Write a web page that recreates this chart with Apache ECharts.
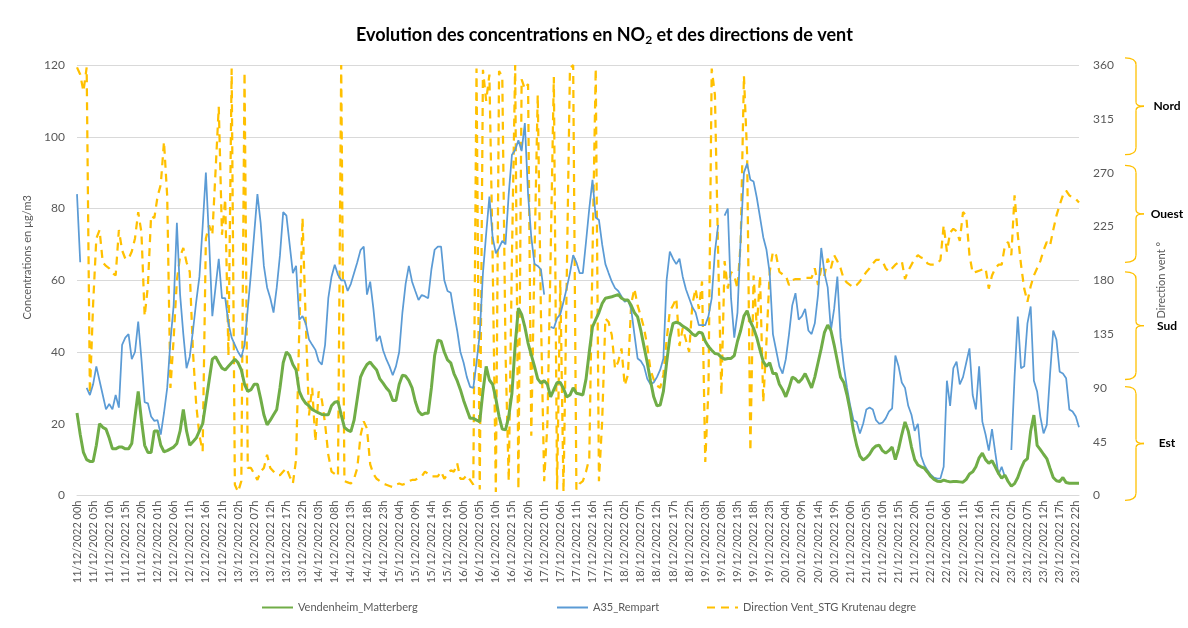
<!DOCTYPE html>
<html lang="fr">
<head>
<meta charset="UTF-8">
<title>Evolution NO2 et directions de vent</title>
<script src="https://cdn.jsdelivr.net/npm/echarts@6/dist/echarts.min.js"></script>
<style>
  html, body { margin: 0; padding: 0; background: #fff; }
  #chart { width: 1188px; height: 628px; }
</style>
</head>
<body>
<div id="chart"></div>
<script>
// categories : une par heure, du 11/12/2022 00h au 23/12/2022 23h
var days = ['11', '12', '13', '14', '15', '16', '17', '18', '19', '20', '21', '22', '23'];
var hours = [];
for (var h = 0; h < 24; h++) hours.push((h < 10 ? '0' : '') + h);
var categories = [];
days.forEach(function (d) {
    hours.forEach(function (hh) { categories.push(d + '/12/2022 ' + hh + 'h'); });
});

// NO2 Vendenheim (µg/m3), une ligne par jour
var vendenheim = [
    23, 17, 12, 10, 9.5, 9.5, 14, 20, 19, 18.5, 16, 13, 13, 13.5, 13.5, 13, 13, 14.5, 22, 29, 21, 14, 12, 12,
    18, 18, 14, 12.2, 12.5, 13, 13.5, 14.5, 18, 24, 18, 14, 15, 16, 18, 20, 26, 32, 38, 38.7, 37, 35.5, 35, 36,
    37, 38, 37, 35, 31, 29, 29.5, 31, 31, 27, 22.5, 19.7, 21, 22.5, 24, 30, 37, 40, 39, 36.5, 35, 29, 27, 25.7,
    25, 24, 23.5, 23, 22.6, 22.5, 22.5, 25, 26, 26.2, 22.5, 19, 18.2, 17.8, 21, 27, 33, 35, 36.5, 37.2, 36, 35, 32.5, 31.3,
    30, 29, 26.5, 26.5, 31, 33.5, 33.3, 32, 30, 26.2, 23.5, 22.5, 22.9, 22.9, 30, 39, 43.3, 43, 40, 37.8, 37, 34, 32, 29.5,
    26.5, 24, 21.5, 21.5, 21, 20.6, 29, 36, 32.2, 31, 27, 22, 18.5, 18.3, 22, 28.5, 42, 52.2, 50.5, 47, 42.5, 39.2, 36, 32.5,
    31.3, 32, 31, 27.5, 29.5, 31.5, 31.5, 29.8, 27.5, 28, 30, 28.5, 28.3, 28, 32.5, 40, 47, 49, 51, 53.5, 55, 55.2, 55.4, 55.7,
    56, 55, 54.5, 54.5, 53, 51, 49.8, 46, 41.5, 37, 32, 27.5, 25, 25.2, 29, 37, 44, 48, 48.3, 48, 47.2, 46.7, 46, 45,
    44.5, 45.5, 45.3, 43, 41.5, 40.5, 39.6, 39.4, 38.5, 38, 38.2, 38.2, 39, 43, 46, 50, 51.5, 48.5, 46.6, 44, 40.5, 37.3, 36, 37,
    34, 34, 31, 29.5, 27.5, 30, 33, 32.5, 31.5, 32.5, 34, 32, 30, 33, 37, 41, 45.5, 47.5, 46, 42, 37.5, 33, 31.5, 28,
    23.5, 18, 14, 11, 9.9, 10.5, 11.5, 13, 13.8, 14, 12.5, 11.8, 12.5, 13.5, 10, 13, 17, 20.5, 18, 13.5, 10, 8.5, 8, 7.6,
    6.5, 5.3, 4.5, 4, 3.9, 4.3, 4, 3.8, 3.9, 3.9, 3.8, 3.7, 4.5, 6, 6.6, 8, 10.5, 11.8, 10, 9, 9.7, 8, 6.2, 4.8,
    5.7, 3.9, 2.6, 3.3, 5, 7.5, 9.5, 10.3, 18, 22.4, 14, 12.8, 11.5, 10.3, 7.6, 5, 4.1, 3.9, 5, 3.6, 3.4, 3.4, 3.4, 3.4
];

// NO2 A35 Rempart (µg/m3), null = donnee manquante
var rempart = [
    84, 65, null, 30, 28, 31, 36, 32, 28, 24, 25.5, 24, 28, 24.5, 42, 44, 45, 38, 40, 48.5, 38, 26, 25.7, 22,
    20.8, 21, 17, 23, 30, 43, 53, 76, 56, 45, 35.5, 38.7, 46, 54, 61, 75, 90, 71, 50, 58, 66, 55, 55, 48,
    44, 42, 40, 38.5, 42, 52, 62, 73, 84, 76, 64, 58, 55, 51, 58, 67, 79, 78, 70, 62, 64, 49, 50, 48,
    43.5, 42, 40.6, 37.5, 36.5, 42, 55, 61, 64.3, 61.5, 60, 60, 57, 59, 62, 65, 68.4, 69.4, 56, 59.6, 52, 43, 44.5, 40.5,
    38, 36, 33.5, 36, 40, 51, 59, 64, 59.6, 57, 54.5, 55.9, 55.5, 55, 63, 68.5, 69.4, 69.4, 60, 57, 56.5, 51, 46, 40,
    37, 33, 30.3, 30, 37, 45, 62, 73, 83.3, 72, 67.5, 69, 71, 70, 84, 95, 96.3, 99, 96, 103.8, 84, 72, 64.5, 64,
    63, 56, null, 47, 46.6, 49.4, 50.5, 54, 57.8, 62, 67, 65, 62, 62, 70.8, 80, 88, 77.5, 76.8, 70, 64.5, 62, 59.6, 57.8,
    57, 55.5, 54, 54.5, 52, 45, 38.2, 37.5, 36, 32.5, 31, 31.5, 33, 35, 38.2, 60, 68, 66, 64.5, 66, 61, 57.5, 55, 52.5,
    51, 47.5, 47.5, 47.5, 50, 55, 68, 75.4, null, 78, 80, 55, 44, 51, 72, 90, 92.5, 88, 87.5, 83, 77.5, 72, 68.5, 62,
    45, 40.5, 36, 34, 38, 45, 53, 56.4, 49, 50, 52, 46, 45, 48, 56, 69, 62, 58, 46, 52, 61, 44, 36, 30,
    25, 21, 20.5, 17.3, 20, 24, 24.5, 24, 21, 20, 20.3, 21.5, 23.4, 24.3, 39, 36, 31.5, 30, 25, 22.5, 18, 20, 11, 8.5,
    7, 5.8, 5, 4.7, 4.8, 8, 32, 25, 35.5, 37.3, 31, 33, 37, 41, 28, 24, 36, 20.6, 17, 12.5, 18.5, 12, 5.8, 8,
    5.2, null, 12.7, 33, 49.9, 35.5, 36, 48, 52.7, 32, 29, 22, 17.3, 19.7, 33.6, 46, 43.4, 34.5, 34, 32.7, 24, 23.4, 22, 19
];

// direction du vent a Krutenau (degres)
var direction = [
    358, 352, 338, 358, 85, 160, 215, 222, 195, 192, 190, 186, 184, 222, 205, 198, 198, 204, 215, 237, 220, 150, 175, 234,
    232, 250, 260, 296, 250, 90, 131, 180, 200, 207, 195, 187, 120, 76, 50, 37, 215, 226, 218, 271, 325, 218, 248, 117,
    357, 9, 3, 12, 354, 23, 23, 18, 13, 20, 23, 34, 23, 20, 17, 17, 20, 23, 16, 10, 30, 140, 232, 145,
    67, 90, 45, 87, 80, 60, 34, 20, 18, 16, 360, 12, 11, 10, 14, 23, 50, 62, 56, 26, 18, 14, 12, 10,
    9, 8, 7, 9, 10, 9, 10, 12, 13, 13, 15, 16, 20, 18, 16, 16, 16, 20, 14, 18, 21, 20, 27, 14,
    14, 17, 13, 9, 357, 5, 356, 330, 352, 200, 3, 355, 350, 120, 12, 200, 360, 5, 348, 340, 344, 50, 200, 335,
    150, 12, 60, 200, 350, 5, 180, 3, 180, 357, 360, 5, 10, 12, 20, 31, 200, 357, 12, 62, 148, 145, 134, 106,
    112, 123, 92, 101, 160, 173, 159, 150, 140, 125, 105, 97, 92, 90, 101, 130, 154, 159, 165, 125, 140, 130, 120, 160,
    173, 156, 179, 28, 90, 357, 335, 201, 84, 196, 173, 187, 184, 173, 212, 351, 285, 37, 184, 140, 184, 78, 129, 187,
    204, 201, 187, 185, 184, 176, 180, 181, 181, 181, 182, 182, 182, 190, 176, 190, 184, 198, 190, 201, 196, 190, 181, 178,
    176, 174, 176, 179, 183, 187, 190, 194, 197, 197, 196, 190, 187, 190, 193, 195, 196, 181, 188, 193, 198, 201, 199, 198,
    194, 193, 193, 194, 197, 226, 204, 220, 223, 221, 213, 237, 234, 201, 186, 187, 188, 189, 190, 173, 184, 190, 193, 193,
    209, 212, 201, 251, 218, 193, 173, 162, 175, 184, 190, 196, 205, 212, 209, 222, 234, 243, 251, 255, 251, 249, 248, 245
];

// secteurs de vent (accolades a droite), en degres
var bandNames = ['Nord', 'Ouest', 'Sud', 'Est'];
var bandTop = [366, 276, 187, 91];
var bandBottom = [285, 195, 97, -4];

var gris = '#595959';
var police = 'Lato, "Liberation Sans", sans-serif';

var chart = echarts.init(document.getElementById('chart'));

// une legende par serie pour garder l'espacement du modele
function legende(nom, gauche) {
    return {
        data: [nom],
        top: 597,
        left: gauche,
        itemWidth: 31,
        itemHeight: 10,
        itemGap: 4,
        itemStyle: { opacity: 0 },
        textStyle: { fontFamily: police, fontSize: 11, color: gris }
    };
}

var option = {
    animation: false,
    backgroundColor: '#fff',
    title: {
        text: 'Evolution des concentrations en NO{sub|2} et des directions de vent',
        left: 351,
        top: 20,
        textStyle: {
            fontFamily: police,
            fontSize: 18,
            fontWeight: 'bold',
            color: '#000',
            rich: {
                sub: { fontFamily: police, fontSize: 12, fontWeight: 'bold', color: '#000', verticalAlign: 'bottom', padding: [9, 0, 0, 0] }
            }
        }
    },
    legend: [
        legende('Vendenheim_Matterberg', 256),
        legende('A35_Rempart', 551),
        legende('Direction Vent_STG Krutenau degre', 701)
    ],
    grid: { left: 77, right: 109, top: 65, bottom: 132.5 },
    xAxis: {
        type: 'category',
        data: categories,
        boundaryGap: false,
        axisLine: { lineStyle: { color: '#D9D9D9' } },
        axisTick: { show: false },
        axisLabel: {
            interval: 4,
            rotate: 90,
            margin: 5,
            fontFamily: police,
            fontSize: 11,
            color: gris
        }
    },
    yAxis: [{
        type: 'value',
        min: 0,
        max: 120,
        interval: 20,
        name: 'Concentrations en µg/m3',
        nameLocation: 'middle',
        nameGap: 44,
        nameTextStyle: { fontFamily: police, fontSize: 11, color: gris, padding: [0, 0, 0, 46] },
        axisLine: { show: false },
        axisTick: { show: false },
        axisLabel: { margin: 12, fontFamily: police, fontSize: 12, color: gris },
        splitLine: { lineStyle: { color: '#D9D9D9' } }
    }, {
        type: 'value',
        min: 0,
        max: 360,
        interval: 45,
        name: 'Direction vent °',
        nameLocation: 'middle',
        nameRotate: 90,
        nameGap: 77,
        nameTextStyle: { fontFamily: police, fontSize: 11, color: gris },
        axisLine: { show: false },
        axisTick: { show: false },
        axisLabel: { margin: 14, fontFamily: police, fontSize: 12, color: gris },
        splitLine: { show: false }
    }],
    series: [{
        name: 'Vendenheim_Matterberg',
        type: 'line',
        data: vendenheim,
        symbol: 'none',
        lineStyle: { color: '#70AD47', width: 3 },
        itemStyle: { color: '#70AD47' },
        z: 3
    }, {
        name: 'A35_Rempart',
        type: 'line',
        data: rempart,
        symbol: 'none',
        connectNulls: false,
        lineStyle: { color: '#5B9BD5', width: 1.75 },
        itemStyle: { color: '#5B9BD5' },
        z: 2
    }, {
        name: 'Direction Vent_STG Krutenau degre',
        type: 'line',
        yAxisIndex: 1,
        data: direction,
        symbol: 'none',
        lineStyle: { color: '#FFC000', width: 2.25, type: [8, 6] },
        itemStyle: { color: '#FFC000' },
        z: 1
    }]
};

chart.setOption(option);

// accolades des secteurs de vent, placees sur l'axe de droite
var trait = { stroke: '#FFC000', lineWidth: 1.3, fill: null };
var elements = [];
bandNames.forEach(function (name, k) {
    var y1 = chart.convertToPixel({ yAxisIndex: 1 }, bandTop[k]);
    var y2 = chart.convertToPixel({ yAxisIndex: 1 }, bandBottom[k]);
    var ym = (y1 + y2) / 2;
    elements.push(
        { type: 'bezierCurve', shape: { x1: 1125, y1: y1, cpx1: 1136, cpy1: y1, x2: 1136, y2: y1 + 7 }, style: trait },
        { type: 'line', shape: { x1: 1136, y1: y1 + 7, x2: 1136, y2: ym - 4 }, style: trait },
        { type: 'bezierCurve', shape: { x1: 1136, y1: ym - 4, cpx1: 1136, cpy1: ym, x2: 1144, y2: ym }, style: trait },
        { type: 'bezierCurve', shape: { x1: 1144, y1: ym, cpx1: 1136, cpy1: ym, x2: 1136, y2: ym + 4 }, style: trait },
        { type: 'line', shape: { x1: 1136, y1: ym + 4, x2: 1136, y2: y2 - 7 }, style: trait },
        { type: 'bezierCurve', shape: { x1: 1136, y1: y2 - 7, cpx1: 1136, cpy1: y2, x2: 1125, y2: y2 }, style: trait },
        {
            type: 'text',
            x: 1167,
            y: ym,
            style: {
                text: name,
                fill: '#000',
                font: 'bold 12px ' + police,
                textAlign: 'center',
                textVerticalAlign: 'middle'
            }
        }
    );
});
chart.setOption({ graphic: elements });
</script>
</body>
</html>
